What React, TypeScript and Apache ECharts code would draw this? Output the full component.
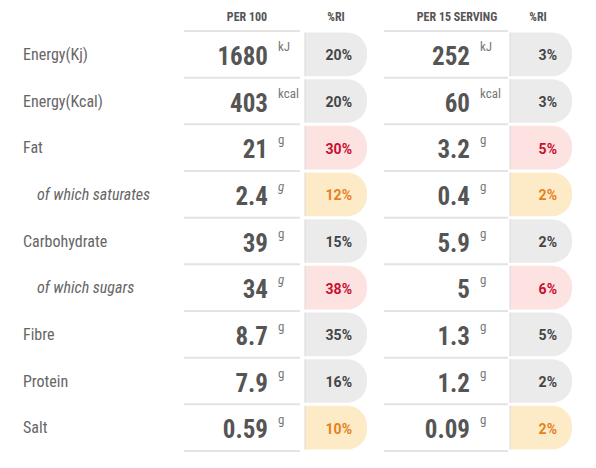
import React, { useEffect, useRef } from "react";
import * as echarts from "echarts";

const nutrients = ["Energy(Kj)", "Energy(Kcal)", "Fat", "of which saturates", "Carbohydrate", "of which sugars", "Fibre", "Protein", "Salt"];
const isSubRow = [false, false, false, true, false, true, false, false, false];
const per100 = [1680, 403, 21, 2.4, 39, 34, 8.7, 7.9, 0.59];
const units = ["kJ", "kcal", "g", "g", "g", "g", "g", "g", "g"];
const ri100 = [20, 20, 30, 12, 15, 38, 35, 16, 10];
const perServing = [252, 60, 3.2, 0.4, 5.9, 5, 1.3, 1.2, 0.09];
const riServing = [3, 3, 5, 2, 2, 6, 5, 2, 2];
const riLevel = ["low", "low", "high", "medium", "low", "high", "low", "low", "medium"];
const headers = ["PER 100", "%RI", "PER 15 SERVING", "%RI"];

const NARROW = "'Roboto Condensed', 'Liberation Sans Narrow', 'DejaVu Sans Condensed', Roboto, sans-serif";
const PILL_STYLE: Record<string, { fill: string; text: string }> = {
  low: { fill: "#ebebeb", text: "#444444" },
  high: { fill: "#fde2e2", text: "#c8102e" },
  medium: { fill: "#fdebc8", text: "#e8801c" },
};

// layout (x positions)
const COLS = {
  label: 23,
  labelSub: 37,
  box1: [184, 300],
  val1Right: 268,
  pill1: [305, 367],
  ri1Right: 352,
  box2: [384, 508],
  val2Right: 470,
  pill2: [510, 572],
  ri2Right: 557,
};
const HEADER_X = [247, 336, 457, 538];

export default function App() {
  const ref = useRef<HTMLDivElement>(null);
  useEffect(() => {
    if (!ref.current) return;
    const chart = echarts.init(ref.current, null, { renderer: "svg" });
    const rowIdx = nutrients.map((_, i) => [0, i]);

    const renderItem = (params: any, api: any) => {
      const i = params.dataIndex;
      const cy = api.coord([0, i])[1];
      const h = api.size([0, 1])[1];
      const top = cy - h / 2;
      const bottom = cy + h / 2;
      const X = (v: number) => api.coord([v, i])[0];
      const children: any[] = [];
      const lineStyle = { stroke: "#e3e3e3", lineWidth: 2 };
      const boxes = [COLS.box1, COLS.box2];
      boxes.forEach((b) => {
        children.push({ type: "line", shape: { x1: X(b[0]), y1: top, x2: X(b[1]), y2: top }, style: lineStyle });
        if (i === nutrients.length - 1) {
          children.push({ type: "line", shape: { x1: X(b[0]), y1: bottom, x2: X(b[1]), y2: bottom }, style: lineStyle });
        }
      });
      // label
      children.push({
        type: "text",
        x: X(isSubRow[i] ? COLS.labelSub : COLS.label),
        y: cy,
        style: {
          text: nutrients[i],
          fill: "#666666",
          font: `${isSubRow[i] ? "italic " : ""}normal 16px ${NARROW}`,
          verticalAlign: "middle",
          align: "left",
        },
      });
      const values = [per100[i], perServing[i]];
      const rights = [COLS.val1Right, COLS.val2Right];
      values.forEach((v, k) => {
        children.push({
          type: "text",
          x: X(rights[k]),
          y: cy + 2,
          style: { text: String(v), fill: "#555555", font: `bold 25px ${NARROW}`, align: "right", verticalAlign: "middle" },
        });
        children.push({
          type: "text",
          x: X(rights[k] + 10),
          y: cy - 8,
          style: {
            text: units[i],
            fill: "#777777",
            font: `${isSubRow[i] && k === 0 ? "italic " : ""}normal 13px ${NARROW}`,
            align: "left",
            verticalAlign: "middle",
          },
        });
      });
      const ris = [ri100[i], riServing[i]];
      const pills = [COLS.pill1, COLS.pill2];
      const riRights = [COLS.ri1Right, COLS.ri2Right];
      const ps = PILL_STYLE[riLevel[i]];
      ris.forEach((r, k) => {
        const x0 = X(pills[k][0]);
        const x1 = X(pills[k][1]);
        children.push({
          type: "rect",
          shape: { x: x0, y: top + 1.5, width: x1 - x0, height: h - 3, r: [0, 20, 20, 0] },
          style: { fill: ps.fill },
        });
        children.push({
          type: "line",
          shape: { x1: x0, y1: top + 1.5, x2: x0, y2: bottom - 1.5 },
          style: { stroke: "#d9d9d9", lineWidth: 1 },
        });
        children.push({
          type: "text",
          x: X(riRights[k]),
          y: cy + 1,
          style: { text: `${r}%`, fill: ps.text, font: "bold 14px Roboto, sans-serif", align: "right", verticalAlign: "middle" },
        });
      });
      return { type: "group", children };
    };

    chart.setOption({
      animation: false,
      backgroundColor: "#ffffff",
      grid: { left: 0, right: 0, top: 31, bottom: 17 },
      xAxis: { type: "value", min: 0, max: 596, show: false },
      yAxis: { type: "category", data: nutrients, inverse: true, show: false },
      graphic: headers.map((t, k) => ({
        type: "text",
        x: HEADER_X[k],
        y: 17,
        style: { text: t, fill: "#555555", font: `bold 12px ${NARROW}`, align: "center", verticalAlign: "middle" },
      })),
      series: [
        {
          type: "custom",
          renderItem,
          data: rowIdx,
          clip: false,
        },
      ],
    });
    return () => chart.dispose();
  }, []);
  return <div ref={ref} style={{ position: "fixed", left: 0, top: 0, width: 596, height: 468 }} />;
}
